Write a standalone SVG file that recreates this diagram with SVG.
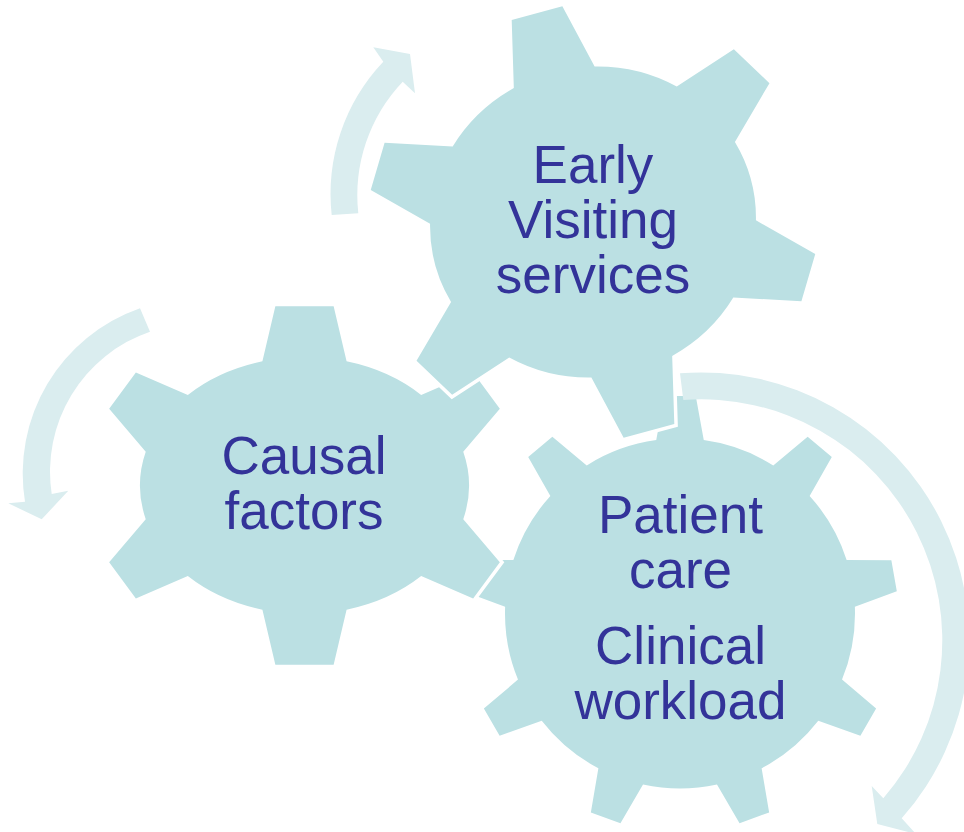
<svg xmlns="http://www.w3.org/2000/svg" width="964" height="832" viewBox="0 0 964 832">
  <style>
    .gear { fill: #BBE0E3; stroke: #FFFFFF; stroke-width: 7; stroke-linejoin: miter; paint-order: stroke; }
    .arrow { fill: #DAEDEF; stroke: none; }
    .label { font-family: "Liberation Sans", Arial, sans-serif; font-size: 53px; fill: #333399; text-anchor: middle; }
  </style>
  <rect x="0" y="0" width="964" height="832" fill="#FFFFFF"/>

  <g id="gear-patient-care">
    <path class="gear" d="M656.25,440.12 L664.25,396.12 L695.75,396.12 L703.75,440.12
      A175,175 0 0 1 773.26,465.41 L807.66,436.86 L831.80,457.10 L809.64,495.95
      A175,175 0 0 1 846.63,560.00 L891.35,560.24 L896.81,591.26 L854.87,606.78
      A175,175 0 0 1 842.02,679.62 L876.13,708.55 L860.38,735.83 L818.28,720.76
      A175,175 0 0 1 761.62,768.30 L769.15,812.38 L739.55,823.16 L716.98,784.54
      A175,175 0 0 1 643.02,784.54 L620.45,823.16 L590.85,812.38 L598.38,768.30
      A175,175 0 0 1 541.72,720.76 L499.62,735.83 L483.87,708.55 L517.98,679.62
      A175,175 0 0 1 505.13,606.78 L463.19,591.26 L468.65,560.24 L513.37,560.00
      A175,175 0 0 1 550.36,495.95 L528.20,457.10 L552.34,436.86 L586.74,465.41
      A175,175 0 0 1 656.25,440.12 Z"/>
    <text class="label" x="680.5" y="532.7">Patient</text>
    <text class="label" x="680.5" y="587.7">care</text>
    <text class="label" x="680.5" y="664.3">Clinical</text>
    <text class="label" x="680.5" y="719.3">workload</text>
  </g>

  <g id="gear-causal-factors">
    <path class="gear" d="M262.42,361.27 L275.36,306.22 L333.64,306.22 L346.58,361.27
      A164.5,128.5 0 0 1 421.18,394.92 L473.14,372.61 L499.84,408.72 L463.26,451.85
      A164.5,128.5 0 0 1 463.26,519.15 L499.84,562.28 L473.14,598.39 L421.18,576.08
      A164.5,128.5 0 0 1 346.58,609.73 L333.64,664.78 L275.36,664.78 L262.42,609.73
      A164.5,128.5 0 0 1 187.82,576.08 L135.86,598.39 L109.16,562.28 L145.74,519.15
      A164.5,128.5 0 0 1 145.74,451.85 L109.16,408.72 L135.86,372.61 L187.82,394.92
      A164.5,128.5 0 0 1 262.42,361.27 Z"/>
    <text class="label" x="304" y="474.3">Causal</text>
    <text class="label" x="304" y="529.3">factors</text>
  </g>

  <g id="gear-early-visiting">
    <path class="gear" transform="translate(593,222) rotate(-15)" d="M-41.82,-149.84 L-26.22,-216.24 L26.22,-216.24 L41.82,-149.84
      A163.5,155 0 0 1 115.98,-109.26 L180.80,-130.48 L206.40,-88.45 L157.80,-40.59
      A163.5,155 0 0 1 157.80,40.59 L206.40,88.45 L180.80,130.48 L115.98,109.26
      A163.5,155 0 0 1 41.82,149.84 L26.22,216.24 L-26.22,216.24 L-41.82,149.84
      A163.5,155 0 0 1 -115.98,109.26 L-180.80,130.48 L-206.40,88.45 L-157.80,40.59
      A163.5,155 0 0 1 -157.80,-40.59 L-206.40,-88.45 L-180.80,-130.48 L-115.98,-109.26
      A163.5,155 0 0 1 -41.82,-149.84 Z"/>
    <text class="label" x="593" y="183.3">Early</text>
    <text class="label" x="593" y="238.3">Visiting</text>
    <text class="label" x="593" y="293.3">services</text>
  </g>

  <g id="arrows">
    <path class="arrow" d="M331.7,215 A192,192 0 0 1 383.3,61.7 L373.3,47.3 L410,54 L415,93.3 L402.7,81.7 A165,165 0 0 0 358.3,213.3 Z"/>
    <path class="arrow" d="M140,308.3 A175,175 0 0 0 25,501.7 L8.3,503.3 L41.7,519.3 L68.3,490.7 L51.7,494 A148,148 0 0 1 150,331.7 Z"/>
    <path class="arrow" d="M680,373.3 A268,268 0 0 1 901.7,818.3 L916,834 L877.3,824 L871.7,786 L883.3,798.3 A241,241 0 0 0 683.3,400 Z"/>
  </g>
</svg>
